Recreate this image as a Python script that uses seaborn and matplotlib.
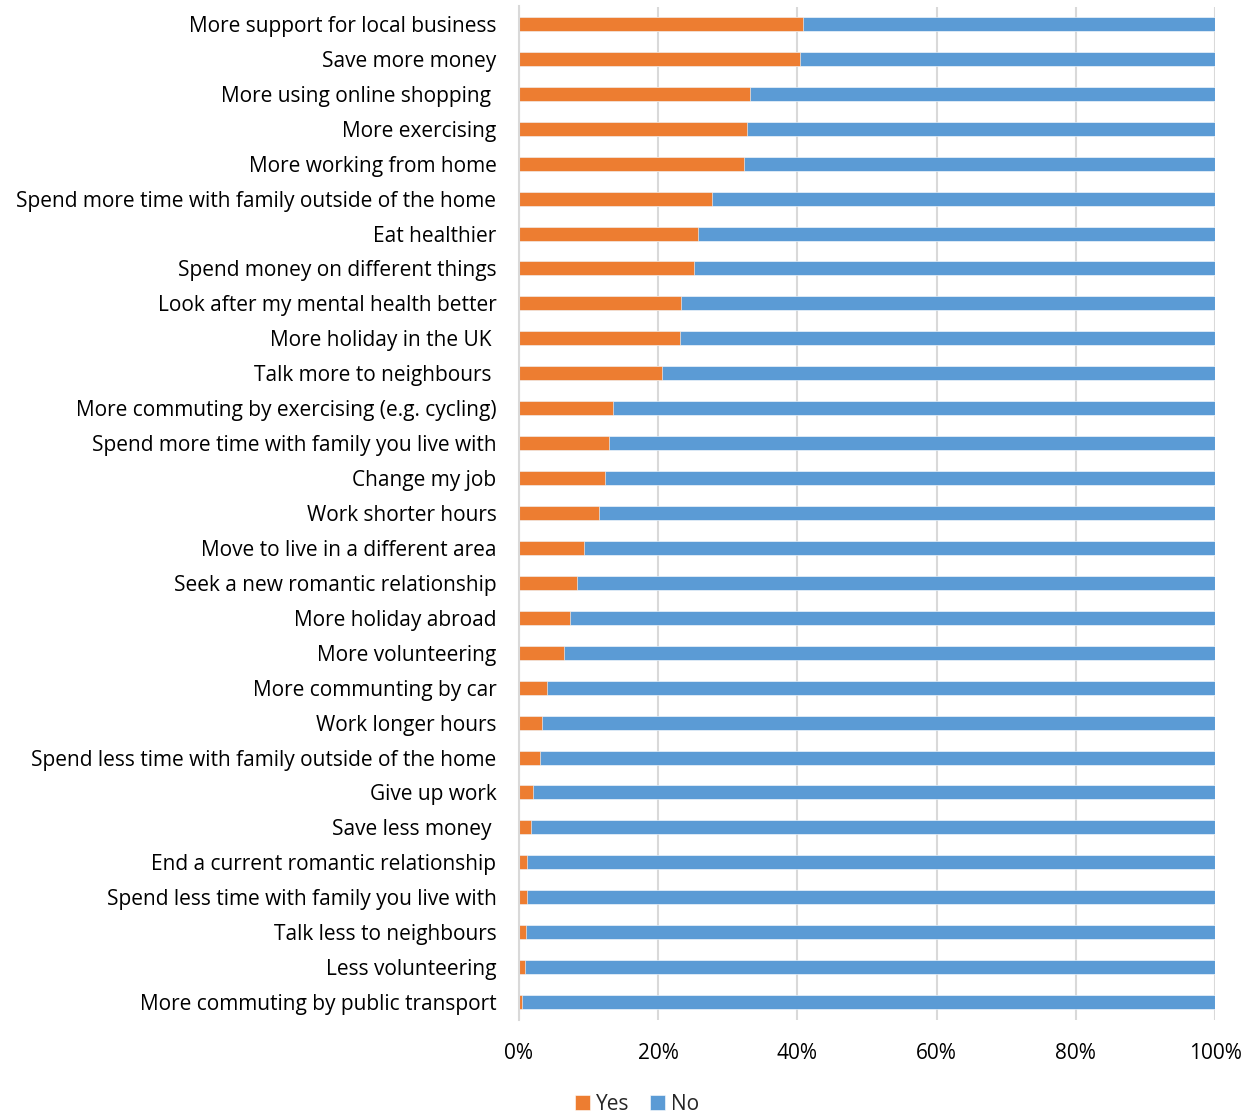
import numpy as np
import pandas as pd
import matplotlib.pyplot as plt
import seaborn as sns

# datos (porcentaje de "Yes")
categorias = [
    "More support for local business",
    "Save more money",
    "More using online shopping ",
    "More exercising",
    "More working from home",
    "Spend more time with family outside of the home",
    "Eat healthier",
    "Spend money on different things",
    "Look after my mental health better",
    "More holiday in the UK ",
    "Talk more to neighbours ",
    "More commuting by exercising (e.g. cycling)",
    "Spend more time with family you live with",
    "Change my job",
    "Work shorter hours",
    "Move to live in a different area",
    "Seek a new romantic relationship",
    "More holiday abroad",
    "More volunteering",
    "More communting by car",
    "Work longer hours",
    "Spend less time with family outside of the home",
    "Give up work",
    "Save less money ",
    "End a current romantic relationship",
    "Spend less time with family you live with",
    "Talk less to neighbours",
    "Less volunteering",
    "More commuting by public transport",
]
yes_pct = [40.8, 40.4, 33.2, 32.8, 32.3, 27.7, 25.7, 25.1, 23.3, 23.2, 20.6,
           13.6, 13.0, 12.4, 11.6, 9.4, 8.4, 7.3, 6.5, 4.0, 3.4, 3.1, 2.0,
           1.7, 1.2, 1.15, 1.05, 0.95, 0.5]
no_pct = [100 - v for v in yes_pct]
ticks_x = [0, 20, 40, 60, 80, 100]

df = pd.DataFrame({"cat": categorias, "Yes": yes_pct, "No": no_pct})
df["total"] = df["Yes"] + df["No"]

sns.set_style("white")
plt.rcParams['font.family'] = ['Open Sans', 'DejaVu Sans']

fig = plt.figure(figsize=(12.58, 11.17), dpi=100)
ax = fig.add_axes([518.7 / 1258, 97.5 / 1117, 696.5 / 1258, 1013 / 1117])

sns.barplot(data=df, x="total", y="cat", color="#5B9BD5", width=0.4,
            saturation=1, ax=ax, label="No", edgecolor="#FFFFFF", linewidth=0.4)
sns.barplot(data=df, x="Yes", y="cat", color="#ED7D31", width=0.4,
            saturation=1, ax=ax, label="Yes", edgecolor="#FFFFFF", linewidth=0.4)

handles, labels = ax.get_legend_handles_labels()
if ax.get_legend() is not None:
    ax.get_legend().remove()

ax.set_xlim(0, 100)
ax.set_ylim(len(categorias) - 0.5, -0.5)
ax.set_xticks(ticks_x)
ax.set_xticklabels([f"{t}%" for t in ticks_x])
ax.set_xlabel("")
ax.set_ylabel("")
ax.grid(axis="x", color="#D9D9D9", linewidth=1.5)
ax.set_axisbelow(True)
for s in ["top", "right", "bottom"]:
    ax.spines[s].set_visible(False)
ax.spines["left"].set_color("#D9D9D9")
ax.spines["left"].set_linewidth(1.5)
ax.tick_params(axis="both", length=0, labelsize=15, colors="#000000")
ax.tick_params(axis="y", pad=16)
ax.tick_params(axis="x", pad=17)

orden = [labels.index("Yes"), labels.index("No")]
fig.legend([handles[i] for i in orden], ["Yes", "No"], loc="center",
           bbox_to_anchor=(637 / 1258, 1 - 1104 / 1117), ncol=2, frameon=False,
           fontsize=15, handlelength=0.7, handleheight=0.7, handletextpad=0.3,
           columnspacing=1.0)

fig.savefig("out.png", dpi=100)
